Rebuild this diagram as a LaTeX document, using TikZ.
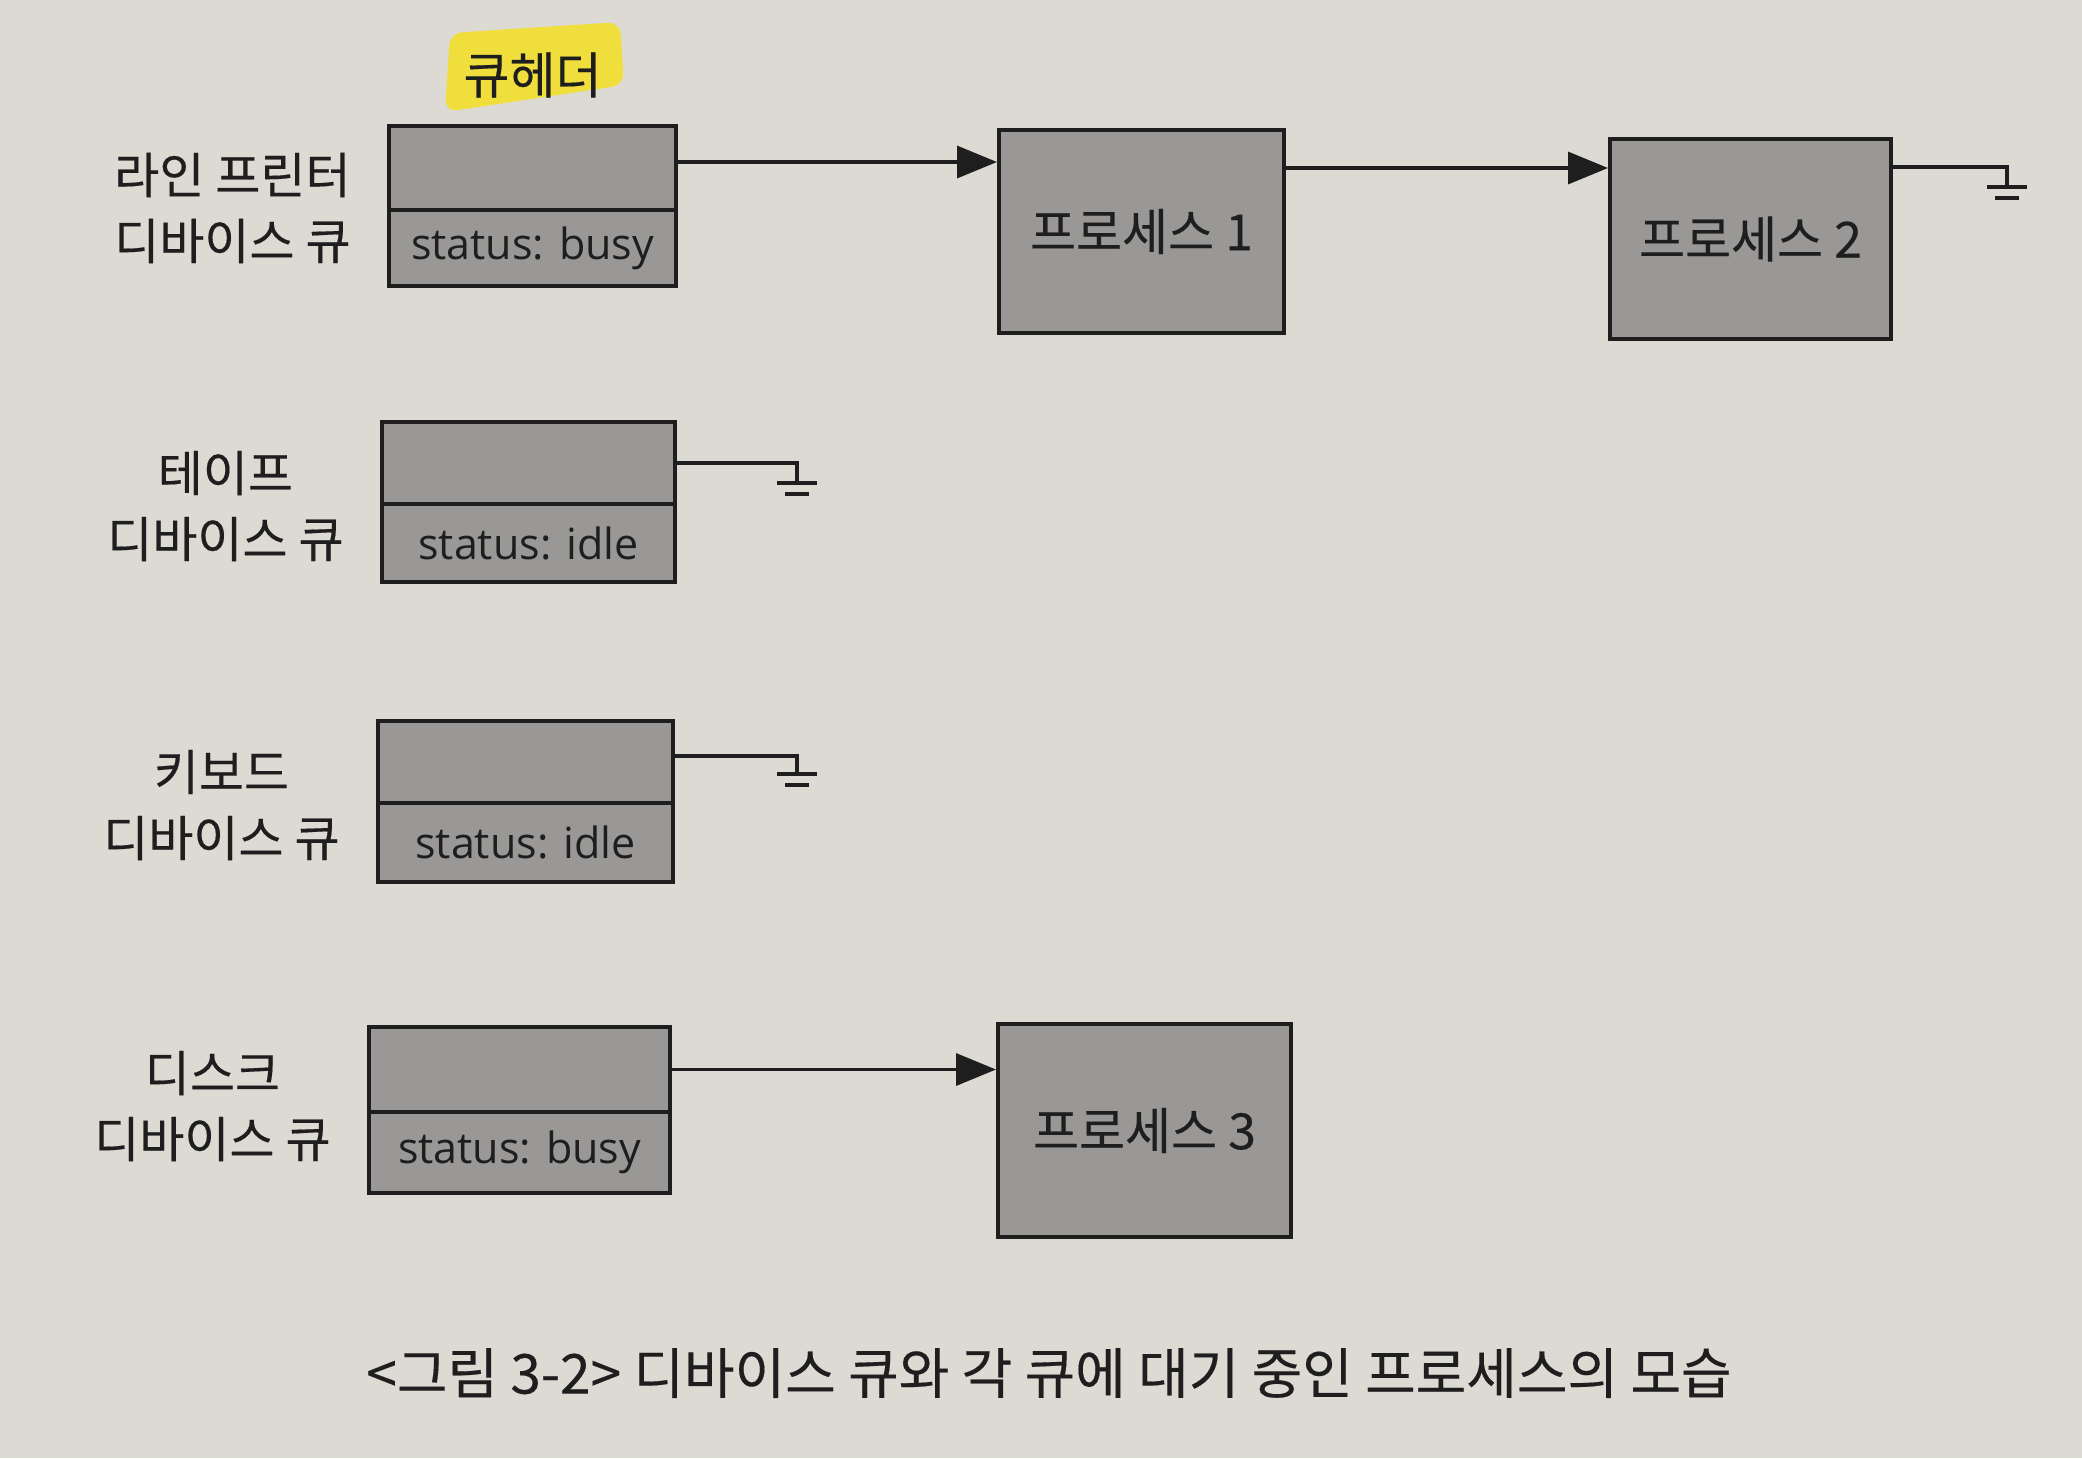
\documentclass[tikz,border=0pt]{standalone}
\usepackage{fontspec}
\setmainfont{Noto Sans CJK KR}[FakeBold=0.3]
\newfontfamily\statfont{Open Sans}
\usetikzlibrary{positioning}
\usetikzlibrary{arrows.meta}
\definecolor{paper}{RGB}{221,218,212}
\definecolor{boxgray}{RGB}{153,152,150}
\definecolor{marker}{RGB}{240,222,60}
\definecolor{ink}{RGB}{30,30,30}
\tikzset{>={Triangle[length=20pt,width=16pt]}}
\tikzset{
	qbox/.style={draw=ink, fill=boxgray, line width=2pt, inner sep=0pt},
	stattext/.style={font=\statfont\fontsize{21.5}{24}\selectfont, text=ink},
	qlabel/.style={align=center, inner sep=0pt, font=\fontsize{24.5}{33}\selectfont, text=ink},
	proctext/.style={font=\fontsize{25}{28}\selectfont, text=ink},
	link/.style={draw=ink, line width=1.7pt},
	grnd/.pic={
		\draw[link] (-20,0) -- (20,0);
		\draw[link] (-12,11) -- (12,11);
	},
}

\begin{document}
\begin{tikzpicture}[x=0.5pt,y=-0.5pt]
		\fill[paper] (0,0) rectangle (2082,1458);
		\useasboundingbox (0,0) rectangle (2082,1458);
		%line printer queue
		\node[qbox, minimum width=143.5pt, minimum height=42pt] (lphead) at (532.5,168) {};
		\node[qbox, minimum width=143.5pt, minimum height=38pt, below=-2pt of lphead, stattext] (lpstat) {status: busy};
		\node[qlabel, left=18pt of lphead.south west, yshift=2pt] (lplabel) {라인 프린터\\디바이스 큐};
		%queue header label
		\fill[marker, rounded corners=6pt] (450,33) -- (620,22) -- (624,85) -- (445,112) -- cycle;
		\node[above=13pt of lphead.north, inner sep=0pt, font=\fontsize{25}{27}\selectfont, text=ink] (qhead) {큐헤더};
		%processes
		\node[qbox, minimum width=142.5pt, minimum height=101.5pt, proctext] (p1) at (1141.5,231.5) {프로세스 1};
		\node[qbox, minimum width=140.5pt, minimum height=100pt, proctext] (p2) at (1750.5,239) {프로세스 2};
		\coordinate (lpout) at ([yshift=3pt]lphead.east);
		\coordinate (p1out) at ([yshift=-20pt]p1.north east);
		\coordinate (p2out) at ([yshift=-15pt]p2.north east);
		\draw[link,->] (lpout) -- (lpout -| p1.west);
		\draw[link,->] (p1out) -- (p1out -| p2.west);
		\draw[link] (p2out) -- ++(114,0) -- ++(0,20) pic {grnd};
		%tape queue
		\node[qbox, minimum width=146.5pt, minimum height=41pt] (tapehead) at (528.5,463) {};
		\node[qbox, minimum width=146.5pt, minimum height=39pt, below=-2pt of tapehead, stattext] (tapestat) {status: idle};
		\node[qlabel, left=18pt of tapehead.south west] (tapelabel) {테이프\\디바이스 큐};
		\draw[link] (tapehead.east) -- ++(120,0) -- ++(0,20) pic {grnd};
		%keyboard queue
		\node[qbox, minimum width=147.5pt, minimum height=41pt] (kbdhead) at (525.5,762) {};
		\node[qbox, minimum width=147.5pt, minimum height=39.5pt, below=-2pt of kbdhead, stattext] (kbdstat) {status: idle};
		\node[qlabel, left=18pt of kbdhead.south west] (kbdlabel) {키보드\\디바이스 큐};
		\coordinate (kbdout) at ([yshift=3pt]kbdhead.east);
		\draw[link] (kbdout) -- ++(122,0) -- ++(0,18) pic {grnd};
		%disk queue
		\node[qbox, minimum width=150.5pt, minimum height=42.5pt] (diskhead) at (519.5,1069.5) {};
		\node[qbox, minimum width=150.5pt, minimum height=40.5pt, below=-2pt of diskhead, stattext] (diskstat) {status: busy};
		\node[qlabel, left=18pt of diskhead.south west, yshift=4pt] (disklabel) {디스크\\디바이스 큐};
		\node[qbox, minimum width=146.5pt, minimum height=106.5pt, proctext] (p3) at (1144.5,1130.5) {프로세스 3};
		\draw[link,->] (diskhead.east) -- (diskhead.east -| p3.west);
		%caption
		\node[font=\fontsize{27.5}{30}\selectfont, text=ink] (caption) at (1049,1373) {<그림 3-2> 디바이스 큐와 각 큐에 대기 중인 프로세스의 모습};
	\end{tikzpicture}
\end{document}
